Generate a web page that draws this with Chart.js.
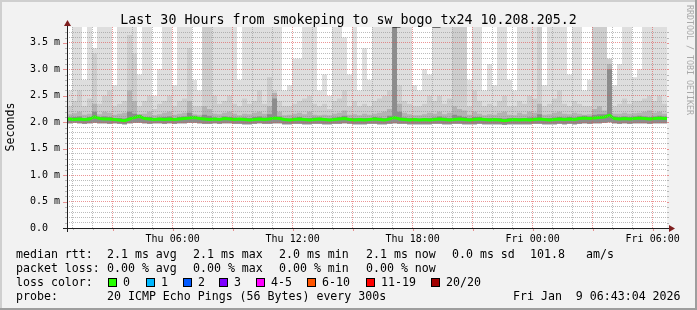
<!DOCTYPE html>
<html><head><meta charset="utf-8">
<script src="https://cdn.jsdelivr.net/npm/chart.js@4.4.1/dist/chart.umd.min.js"></script>
<style>html,body{margin:0;padding:0;background:#f2f2f2;}canvas{display:block;}</style>
</head><body>
<canvas id="c" width="697" height="310"></canvas>
<script>
// ---- data (values in ms, one column = 15 minutes, 120 columns = 30 hours) ----
const COL_HOURS = 0.25;
const SPAN_H = 30;
const START_OFFSET_H = 43/60 + 4/3600;   // graph starts Thu 00:43:04

const TITLE = 'Last 30 Hours from smokeping to sw_bogo_tx24 10.208.205.2';
const Y_TITLE = 'Seconds';
const WATERMARK = 'RRDTOOL / TOBI OETIKER';
const Y_TICK_LABELS = ['0.0  ', '0.5 m', '1.0 m', '1.5 m', '2.0 m', '2.5 m', '3.0 m', '3.5 m'];
const X_TICK_LABELS = ['Thu 06:00', 'Thu 12:00', 'Thu 18:00', 'Fri 00:00', 'Fri 06:00'];

// lowest ping per column
const LO_MS = [
 1.98,1.99,1.98,1.97,1.98,1.99,1.98,1.98,1.97,1.98,
 1.97,1.96,1.98,1.99,1.99,1.98,1.97,1.98,1.98,1.97,
 1.98,1.97,1.98,1.98,1.99,1.99,1.98,1.97,1.97,1.98,
 1.97,1.98,1.98,1.97,1.97,1.96,1.96,1.97,1.98,1.97,
 1.97,1.98,1.98,1.96,1.96,1.97,1.97,1.96,1.96,1.97,
 1.97,1.96,1.96,1.97,1.97,1.98,1.97,1.96,1.96,1.96,
 1.97,1.97,1.96,1.96,1.97,1.98,1.97,1.97,1.96,1.96,
 1.96,1.96,1.96,1.97,1.97,1.96,1.96,1.97,1.97,1.96,
 1.96,1.96,1.97,1.96,1.96,1.96,1.96,1.95,1.96,1.96,
 1.96,1.96,1.96,1.97,1.97,1.96,1.96,1.96,1.97,1.96,
 1.97,1.96,1.97,1.98,1.97,1.98,1.98,1.99,2.00,1.98,
 1.97,1.98,1.97,1.98,1.98,1.98,1.97,1.98,1.98,1.98
];
// highest ping per column (values above 3.8 run off the top)
const MAX_MS = [
 2.6,4,4,2.8,4,3.4,4,4,4,2.7,
 4,4,4,4,2.9,4,4,2.5,3.0,4,
 4,2.7,4,4,4,2.8,2.6,4,4,4,
 4,4,4,4,2.8,4,4,4,4,4,
 4,4,4,2.6,2.7,3.2,3.2,4,4,4,
 2.6,2.9,2.5,4,4,3.6,2.9,4,2.6,3.4,
 2.8,4,4,4,4,4,4,4,4,2.7,
 2.6,3.0,2.9,4,4,4,4,4,4,4,
 2.8,4,4,2.6,3.1,2.7,4,4,2.8,2.6,
 4,4,4,4,4,2.7,4,4,4,4,
 2.9,4,4,2.6,2.8,4,4,4,3.2,2.7,
 3.1,4,4,2.85,3.0,4,4,4,4,4
];
// second highest ping per column
const HIGH2_MS = [
 2.3,2.4,2.6,2.3,2.45,3.3,2.35,2.5,2.6,2.3,
 2.35,2.4,3.65,3.3,2.3,2.4,2.5,2.25,2.35,2.4,
 2.5,2.3,2.4,2.45,3.4,2.3,2.3,4,4,2.5,
 2.35,2.4,2.5,2.35,2.3,2.45,2.35,2.4,2.6,2.35,
 2.85,2.6,2.4,2.3,2.3,2.35,2.4,2.45,2.5,2.35,
 2.3,2.35,2.25,2.4,2.45,2.6,2.3,2.4,2.3,2.35,
 2.3,2.4,2.45,2.5,2.6,4,2.7,2.4,2.35,2.3,
 2.3,2.35,2.5,2.4,2.5,2.35,2.45,4,4,4,
 2.3,2.6,2.4,2.3,2.35,2.3,2.4,2.5,2.3,2.3,
 2.4,2.35,2.5,2.45,4,2.3,2.35,2.45,2.6,2.35,
 2.3,2.4,2.35,2.3,2.3,4,4,4,3.2,2.3,
 2.35,2.45,2.35,2.4,2.4,2.45,2.5,2.4,2.5,2.35
];
// upper quartile of pings per column
const HIGH3_MS = [
 2.15,2.17,2.2,2.14,2.16,2.35,2.15,2.2,2.18,2.14,
 2.16,2.18,2.6,2.4,2.15,2.16,2.2,2.13,2.15,2.18,
 2.2,2.14,2.16,2.18,2.4,2.15,2.14,2.3,2.25,2.16,
 2.15,2.18,2.2,2.16,2.13,2.16,2.15,2.18,2.2,2.16,
 2.3,2.55,2.2,2.13,2.14,2.16,2.18,2.15,2.2,2.14,
 2.13,2.14,2.13,2.16,2.18,2.22,2.14,2.15,2.13,2.16,
 2.14,2.16,2.18,2.2,2.25,4,2.35,2.18,2.15,2.13,
 2.13,2.15,2.18,2.16,2.2,2.15,2.18,2.3,2.25,2.22,
 2.14,2.2,2.16,2.13,2.15,2.14,2.18,2.2,2.14,2.13,
 2.18,2.15,2.2,2.18,2.35,2.14,2.15,2.18,2.2,2.16,
 2.15,2.18,2.16,2.14,2.15,2.25,2.3,2.22,3.1,2.16,
 2.16,2.18,2.16,2.17,2.18,2.2,2.22,2.18,2.2,2.16
];
// pings just above the median per column
const HIGH4_MS = [
 2.09,2.1,2.11,2.08,2.1,2.2,2.1,2.11,2.1,2.08,
 2.08,2.07,2.2,2.16,2.14,2.1,2.1,2.08,2.09,2.1,
 2.11,2.08,2.1,2.11,2.18,2.12,2.1,2.14,2.12,2.09,
 2.08,2.11,2.1,2.09,2.08,2.09,2.08,2.1,2.11,2.09,
 2.15,2.45,2.11,2.08,2.07,2.09,2.1,2.08,2.08,2.09,
 2.09,2.08,2.07,2.09,2.1,2.12,2.08,2.08,2.08,2.08,
 2.08,2.1,2.09,2.08,2.12,3.9,2.2,2.09,2.08,2.08,
 2.07,2.08,2.08,2.09,2.11,2.09,2.08,2.14,2.12,2.1,
 2.08,2.1,2.1,2.08,2.08,2.08,2.08,2.07,2.08,2.08,
 2.08,2.08,2.09,2.09,2.15,2.08,2.08,2.09,2.1,2.09,
 2.1,2.09,2.11,2.12,2.11,2.14,2.15,2.15,3.0,2.11,
 2.1,2.11,2.1,2.11,2.12,2.11,2.1,2.11,2.12,2.11
];
// median rtt per column
const MEDIAN_MS = [
 2.06,2.05,2.06,2.05,2.06,2.10,2.07,2.06,2.06,2.05,
 2.04,2.03,2.06,2.09,2.11,2.07,2.06,2.05,2.06,2.05,
 2.06,2.05,2.06,2.07,2.08,2.09,2.07,2.06,2.05,2.06,
 2.05,2.07,2.06,2.05,2.06,2.05,2.04,2.05,2.06,2.05,
 2.06,2.08,2.07,2.05,2.04,2.05,2.06,2.05,2.04,2.05,
 2.06,2.05,2.04,2.05,2.06,2.07,2.05,2.04,2.05,2.04,
 2.05,2.06,2.05,2.04,2.06,2.09,2.06,2.05,2.04,2.05,
 2.04,2.05,2.04,2.05,2.06,2.05,2.04,2.05,2.06,2.05,
 2.04,2.05,2.06,2.05,2.04,2.05,2.04,2.03,2.04,2.05,
 2.04,2.05,2.04,2.05,2.06,2.05,2.04,2.05,2.06,2.05,
 2.06,2.05,2.07,2.08,2.07,2.08,2.09,2.10,2.13,2.07,
 2.06,2.07,2.06,2.07,2.08,2.07,2.06,2.07,2.08,2.07
];

const LEGEND_MEDIAN = ['median rtt:', '2.1 ms avg', '2.1 ms max', '2.0 ms min', '2.1 ms now', '0.0 ms sd', '101.8', 'am/s'];
const LEGEND_LOSS = ['packet loss:', '0.00 % avg', '0.00 % max', '0.00 % min', '0.00 % now'];
const LOSS_TITLE = 'loss color:';
const LOSS_LABELS = ['0', '1', '2', '3', '4-5', '6-10', '11-19', '20/20'];
const LOSS_COLORS = ['#26ff00', '#00b8ff', '#0059ff', '#7e00ff', '#ff00ff', '#ff5500', '#ff0000', '#a10000'];
const PROBE_ROW = ['probe:', '20 ICMP Echo Pings (56 Bytes) every 300s', 'Fri Jan  9 06:43:04 2026'];

// ---- styling ----
const FONT = 'DejaVu Sans Mono';
const GRID_C = 'rgba(143,143,143,0.6)';
const MGRID_C = 'rgba(222,79,79,0.6)';
const AXIS_C = '#1f1f1f';
const ARROW_C = '#7f1f1f';

const N = MEDIAN_MS.length;
function stepPts(arr) {
  const pts = [{x: 0, y: arr[0]}];
  arr.forEach((v, i) => pts.push({x: (i + 0.5) * COL_HOURS, y: v}));
  pts.push({x: N * COL_HOURS, y: arr[N - 1]});
  return pts;
}
function layer(arr, color, order) {
  return { data: stepPts(arr), stepped: 'middle', borderWidth: 0, borderColor: 'rgba(0,0,0,0)',
           backgroundColor: color, pointRadius: 0, fill: {target: 0}, order };
}

const HOUR_TICKS = [];
for (let k = 1; k <= SPAN_H; k++) HOUR_TICKS.push(k - START_OFFSET_H);
const Y_GRID = [];
for (let k = 0; k <= 37; k++) Y_GRID.push(k / 10);

const clockOf = v => Math.round(v + START_OFFSET_H);

const decor = {
  id: 'decor',
  beforeDraw(chart) {
    const c = chart.ctx, a = chart.chartArea;
    c.save();
    c.fillStyle = '#f2f2f2'; c.fillRect(0, 0, 697, 310);
    c.fillStyle = '#cfcfcf'; c.fillRect(0, 0, 697, 2); c.fillRect(0, 0, 2, 310);
    c.fillStyle = '#9e9e9e'; c.fillRect(0, 308, 697, 2); c.fillRect(695, 0, 2, 310);
    c.fillStyle = '#ffffff'; c.fillRect(a.left, a.top, a.right - a.left, a.bottom - a.top);
    c.restore();
  },
  afterDraw(chart) {
    const c = chart.ctx, a = chart.chartArea;
    const xs = chart.scales.x, ys = chart.scales.y;
    c.save();
    c.lineWidth = 1;
    HOUR_TICKS.forEach(v => {
      const px = Math.round(xs.getPixelForValue(v)) + 0.5;
      const major = clockOf(v) % 3 === 0;
      c.strokeStyle = major ? MGRID_C : GRID_C;
      c.beginPath(); c.moveTo(px, a.bottom); c.lineTo(px, a.bottom + (major ? 3 : 2)); c.stroke();
    });
    Y_GRID.forEach(v => {
      const py = Math.round(ys.getPixelForValue(v)) + 0.5;
      const major = Math.round(v * 10) % 5 === 0;
      c.strokeStyle = major ? MGRID_C : GRID_C;
      c.beginPath(); c.moveTo(a.left - (major ? 4 : 2), py); c.lineTo(a.left, py); c.stroke();
      c.beginPath(); c.moveTo(a.right, py); c.lineTo(a.right + 2, py); c.stroke();
    });
    const x0 = a.left + 0.5, y0 = a.bottom + 0.5;
    c.strokeStyle = AXIS_C;
    c.beginPath(); c.moveTo(x0, a.bottom + 4); c.lineTo(x0, a.top - 4); c.stroke();
    c.beginPath(); c.moveTo(a.left - 4, y0); c.lineTo(a.right + 4, y0); c.stroke();
    c.fillStyle = ARROW_C;
    c.beginPath(); c.moveTo(a.left - 3, a.top - 1); c.lineTo(a.left + 4, a.top - 1); c.lineTo(x0, a.top - 7); c.closePath(); c.fill();
    c.beginPath(); c.moveTo(a.right + 2, a.bottom - 3); c.lineTo(a.right + 2, a.bottom + 4); c.lineTo(a.right + 8, y0); c.closePath(); c.fill();
    c.fillStyle = '#000';
    c.font = '13.3px "' + FONT + '"';
    c.textAlign = 'center'; c.textBaseline = 'alphabetic';
    c.fillText(TITLE, 348.5, 24);
    c.font = '11.6px "' + FONT + '"';
    c.save(); c.translate(11, 127); c.rotate(-Math.PI / 2);
    c.textBaseline = 'middle'; c.fillText(Y_TITLE, 0, 0); c.restore();
    c.save(); c.translate(689, 60); c.rotate(Math.PI / 2);
    c.fillStyle = '#a9a9a9'; c.font = '8.3px "' + FONT + '"';
    c.textBaseline = 'middle'; c.textAlign = 'center'; c.fillText(WATERMARK, 0, 0); c.restore();
    c.font = '11.6px "' + FONT + '"';
    c.textAlign = 'left'; c.textBaseline = 'alphabetic'; c.fillStyle = '#000';
    const colX = [16, 107, 193, 279, 366, 452, 530, 586];
    LEGEND_MEDIAN.forEach((t, i) => c.fillText(t, colX[i], 258));
    LEGEND_LOSS.forEach((t, i) => c.fillText(t, colX[i], 272));
    c.fillText(LOSS_TITLE, 16, 286);
    const boxX = [108, 146, 183, 219, 256, 307, 366, 431];
    LOSS_LABELS.forEach((t, i) => {
      c.fillStyle = LOSS_COLORS[i]; c.fillRect(boxX[i], 278, 9, 9);
      c.strokeStyle = '#000'; c.strokeRect(boxX[i] + 0.5, 278.5, 8, 8);
      c.fillStyle = '#000'; c.fillText(t, boxX[i] + 15, 286);
    });
    c.fillText(PROBE_ROW[0], 16, 300);
    c.fillText(PROBE_ROW[1], 107, 300);
    c.fillText(PROBE_ROW[2], 513, 300);
    c.restore();
  }
};

new Chart(document.getElementById('c'), {
  type: 'line',
  data: {
    datasets: [
      { data: stepPts(LO_MS), stepped: 'middle', borderWidth: 0, borderColor: 'rgba(0,0,0,0)', pointRadius: 0, fill: false, order: 10 },
      layer(MAX_MS, '#dedede', 9),
      layer(HIGH2_MS, '#cdcdcd', 8),
      layer(HIGH3_MS, '#b3b3b3', 7),
      layer(HIGH4_MS, '#8c8c8c', 6),
      { data: [{x: 0, y: MEDIAN_MS[0]}, ...MEDIAN_MS.map((v, i) => ({x: (i + 0.5) * COL_HOURS, y: v})), {x: SPAN_H, y: MEDIAN_MS[N - 1]}],
        borderColor: LOSS_COLORS[0], borderWidth: 3, pointRadius: 0, fill: false, tension: 0, order: 1 }
    ]
  },
  options: {
    responsive: false, devicePixelRatio: 1, animation: false,
    layout: { padding: { top: 27, right: 30, bottom: 62, left: 0 } },
    plugins: { legend: { display: false }, tooltip: { enabled: false }, title: { display: false } },
    scales: {
      x: {
        type: 'linear', min: 0, max: SPAN_H,
        afterFit: s => { s.height = 20; },
        afterBuildTicks: s => { s.ticks = HOUR_TICKS.map(v => ({value: v})); },
        grid: { color: ctx => (ctx.tick && clockOf(ctx.tick.value) % 3 === 0) ? MGRID_C : GRID_C, lineWidth: 1, drawTicks: false, z: 1 },
        border: { display: false, dash: [1, 1] },
        ticks: { autoSkip: false, maxRotation: 0, minRotation: 0, padding: 5, color: '#000', font: { family: FONT, size: 10 },
          callback: v => { const h = clockOf(v); return h % 6 === 0 ? X_TICK_LABELS[h / 6 - 1] : ''; } }
      },
      y: {
        min: 0, max: 3.8,
        afterFit: s => { s.width = 67; },
        afterBuildTicks: s => { s.ticks = Y_GRID.map(v => ({value: v})); },
        grid: { color: ctx => (ctx.tick && Math.round(ctx.tick.value * 10) % 5 === 0) ? MGRID_C : GRID_C, lineWidth: 1, drawTicks: false, z: 1 },
        border: { display: false, dash: [1, 1] },
        ticks: { autoSkip: false, padding: 7, color: '#000', font: { family: FONT, size: 10 },
          callback: v => { const k = Math.round(v * 10); return k % 5 === 0 ? Y_TICK_LABELS[k / 5] : ''; } }
      }
    }
  },
  plugins: [decor]
});
</script>
</body></html>
